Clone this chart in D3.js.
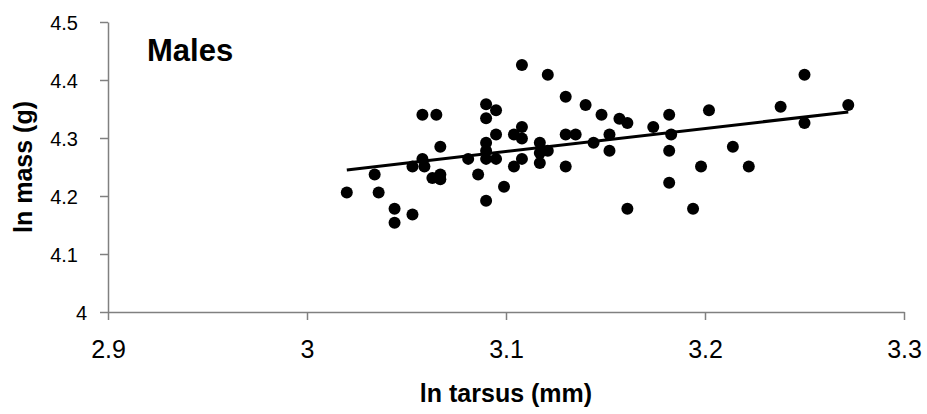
<!DOCTYPE html>
<html>
<head>
<meta charset="utf-8">
<script src="https://cdn.jsdelivr.net/npm/d3@7"></script>
<style>
    body { margin: 0; background: #fff; }
    svg { display: block; font-family: Arial, "Liberation Sans", sans-serif; }
    .axis path, .axis line { stroke: #808080; stroke-width: 1.5; }
    .axis text { fill: #000; }
</style>
</head>
<body>
<div id="chart"></div>
<script>
// ln tarsus (mm) of each male
const tarsus = [
    3.020, 3.034, 3.036, 3.044, 3.044, 3.053, 3.053, 3.058, 3.065, 3.058,
    3.059, 3.063, 3.067, 3.067, 3.067, 3.081, 3.086, 3.090, 3.090, 3.095,
    3.095, 3.090, 3.090, 3.090, 3.095, 3.099, 3.090, 3.104, 3.104, 3.108,
    3.121, 3.108, 3.108, 3.108, 3.117, 3.117, 3.117, 3.121, 3.130, 3.130,
    3.135, 3.130, 3.140, 3.144, 3.148, 3.152, 3.152, 3.157, 3.161, 3.161,
    3.174, 3.182, 3.183, 3.182, 3.182, 3.194, 3.198, 3.202, 3.214, 3.222,
    3.238, 3.250, 3.250, 3.272
];

// ln mass (g), same order
const mass = [
    4.206, 4.237, 4.206, 4.178, 4.154, 4.168, 4.251, 4.340, 4.340, 4.264,
    4.251, 4.231, 4.237, 4.229, 4.285, 4.264, 4.237, 4.358, 4.334, 4.348,
    4.306, 4.292, 4.278, 4.264, 4.264, 4.216, 4.192, 4.306, 4.251, 4.426,
    4.409, 4.319, 4.299, 4.264, 4.292, 4.274, 4.257, 4.278, 4.371, 4.306,
    4.306, 4.251, 4.357, 4.292, 4.340, 4.306, 4.278, 4.333, 4.326, 4.178,
    4.319, 4.340, 4.306, 4.278, 4.223, 4.178, 4.251, 4.348, 4.285, 4.251,
    4.354, 4.409, 4.326, 4.357
];

// regression line end points
const trendX = [3.020, 3.272];
const trendY = [4.245, 4.345];

const xTicks = [2.9, 3.0, 3.1, 3.2, 3.3];
const yTicks = [4.0, 4.1, 4.2, 4.3, 4.4, 4.5];

const width = 927, height = 414;
const margin = {top: 22, right: 23, bottom: 102, left: 108};

const svg = d3.select('#chart')
    .append('svg')
    .attr('width', width)
    .attr('height', height);

const x = d3.scaleLinear()
    .domain([2.9, 3.3])
    .range([margin.left, width - margin.right]);

const y = d3.scaleLinear()
    .domain([4.0, 4.5])
    .range([height - margin.bottom, margin.top]);

// x axis
const xAxis = svg.append('g')
    .attr('class', 'axis')
    .attr('transform', `translate(0,${height - margin.bottom})`)
    .call(d3.axisBottom(x).tickValues(xTicks).tickSize(8).tickSizeOuter(0)
        .tickFormat(d => d3.format('')(+d.toFixed(1))));
xAxis.selectAll('text')
    .attr('font-size', 25)
    .attr('y', 46)
    .attr('dy', 0);

// y axis
const yAxis = svg.append('g')
    .attr('class', 'axis')
    .attr('transform', `translate(${margin.left},0)`)
    .call(d3.axisLeft(y).tickValues(yTicks).tickSize(8).tickSizeOuter(0)
        .tickFormat(d => d3.format('')(+d.toFixed(1))));
yAxis.selectAll('text')
    .attr('font-size', 20)
    .attr('x', d => Number.isInteger(+d.toFixed(1)) ? -21 : -30)
    .attr('dy', '0.36em');

// points
const points = tarsus.map((t, i) => ({x: t, y: mass[i]}));

svg.append('g')
    .selectAll('circle')
    .data(points)
    .enter()
    .append('circle')
    .attr('cx', d => x(d.x))
    .attr('cy', d => y(d.y))
    .attr('r', 6)
    .attr('fill', '#000');

// trend line
svg.append('line')
    .attr('x1', x(trendX[0]))
    .attr('y1', y(trendY[0]))
    .attr('x2', x(trendX[1]))
    .attr('y2', y(trendY[1]))
    .attr('stroke', '#000')
    .attr('stroke-width', 3);

// titles
svg.append('text')
    .attr('x', 147)
    .attr('y', 61)
    .attr('font-size', 31)
    .attr('font-weight', 'bold')
    .text('Males');

svg.append('text')
    .attr('x', (margin.left + width - margin.right) / 2)
    .attr('y', 402)
    .attr('text-anchor', 'middle')
    .attr('font-size', 25)
    .attr('font-weight', 'bold')
    .text('ln tarsus (mm)');

svg.append('text')
    .attr('transform', `translate(32,${(margin.top + height - margin.bottom) / 2}) rotate(-90)`)
    .attr('text-anchor', 'middle')
    .attr('font-size', 25)
    .attr('font-weight', 'bold')
    .text('ln mass (g)');
</script>
</body>
</html>
